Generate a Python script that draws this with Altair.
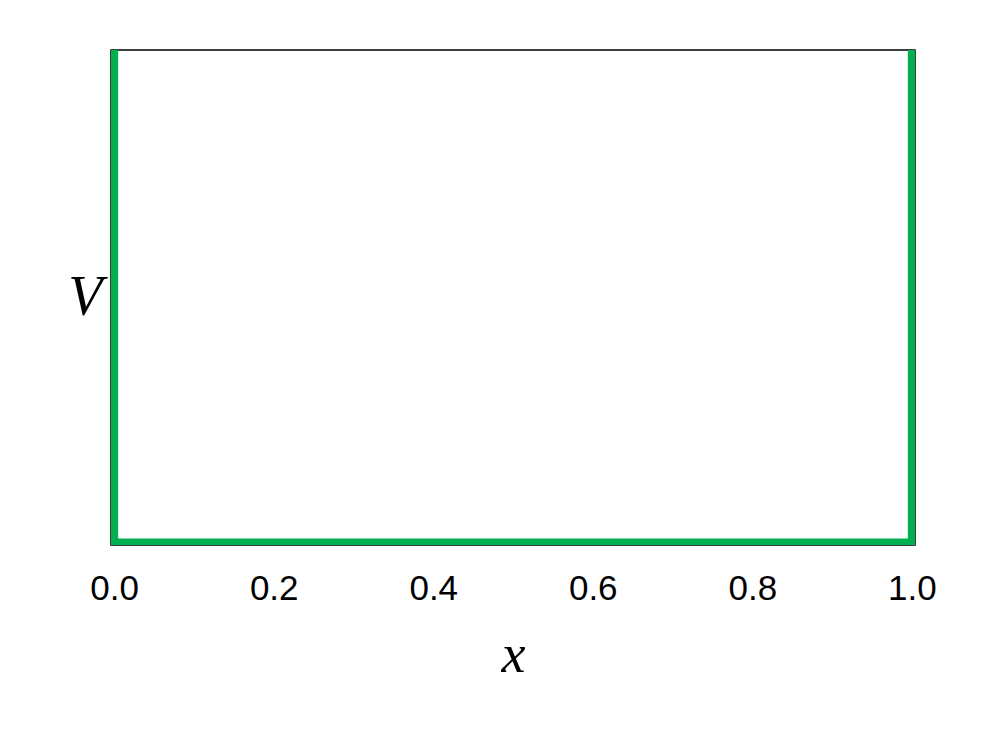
import altair as alt
import pandas as pd

# Infinite square well outline
x_vals = [0.0, 0.0, 1.0, 1.0]
v_vals = [1.2, 0.0, 0.0, 1.2]
order = [0, 1, 2, 3]
x_ticks = [0.0, 0.2, 0.4, 0.6, 0.8, 1.0]

df = pd.DataFrame({"x": x_vals, "V": v_vals, "i": order})

chart = alt.Chart(df).mark_line(
    color="#00b050", strokeWidth=8, clip=True, strokeCap="butt", strokeJoin="miter"
).encode(
    x=alt.X("x:Q", scale=alt.Scale(domain=[-0.004, 1.004], nice=False, zero=False),
            axis=alt.Axis(values=x_ticks, format=".1f", title="x", grid=False,
                          ticks=False, domain=False, labelFont="Liberation Sans",
                          labelFontSize=35, labelColor="black", labelPadding=26,
                          titleFont="Liberation Serif", titleFontStyle="italic",
                          titleFontWeight="normal", titleFontSize=54, titleColor="black",
                          titlePadding=22)),
    y=alt.Y("V:Q", scale=alt.Scale(domain=[-0.005, 1.0], nice=False, zero=False),
            axis=alt.Axis(title="V", grid=False, ticks=False, labels=False, domain=False,
                          titleAngle=0, titleAlign="right", titleBaseline="middle",
                          titleX=-9, titleY=247, titleFont="Liberation Serif",
                          titleFontStyle="italic", titleFontWeight="normal",
                          titleFontSize=56, titleColor="black")),
    order="i:O",
).properties(
    width=804, height=495,
    autosize=alt.AutoSizeParams(type="none"),
    padding={"left": 103, "top": 42, "right": 60, "bottom": 150},
).configure_view(stroke="black", strokeWidth=1.5)

chart.save("out.html", embed_options={"renderer": "svg", "actions": False})
